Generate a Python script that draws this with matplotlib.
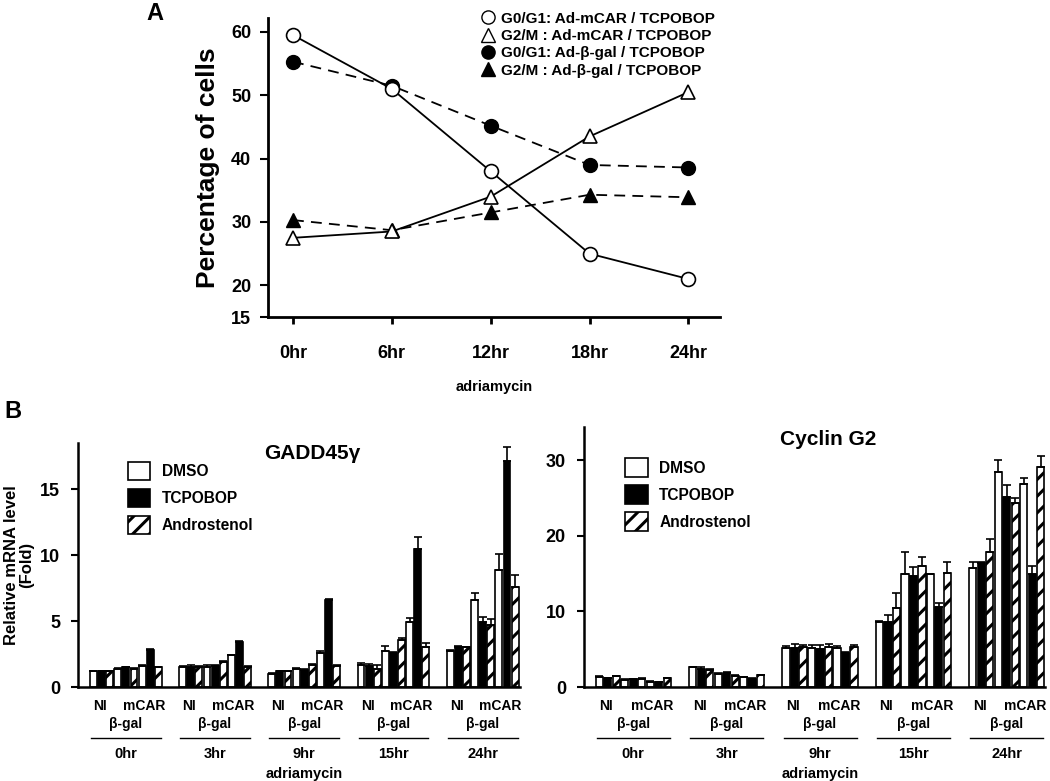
import numpy as np
import matplotlib
matplotlib.use("Agg")
import matplotlib.pyplot as plt
from matplotlib.lines import Line2D

plt.rcParams['font.family'] = ['Liberation Sans', 'DejaVu Sans']
plt.rcParams['font.weight'] = 'bold'
plt.rcParams['hatch.linewidth'] = 2.2

# ---- panel A: cell cycle distribution ----
hours_a   = ["0hr", "6hr", "12hr", "18hr", "24hr"]
g0g1_mcar = [59.5, 51.0, 38.0, 25.0, 21.0]
g2m_mcar  = [27.5, 28.5, 34.0, 43.5, 50.5]
g0g1_bgal = [55.3, 51.5, 45.2, 39.0, 38.6]
g2m_bgal  = [30.3, 28.7, 31.5, 34.3, 33.9]

# ---- panel B: mRNA levels ----
hours_b    = ["0hr", "3hr", "9hr", "15hr", "24hr"]
virus      = ["NI", "β-gal", "mCAR"]
treatments = ["DMSO", "TCPOBOP", "Androstenol"]

# order: for each time -> NI, b-gal, mCAR
gadd_dmso     = [1.2, 1.4, 1.6,  1.5, 1.5, 2.4,  1.0, 1.4, 2.6,  1.7, 2.7, 4.9,  2.7, 6.6, 8.9]
gadd_tcpobop  = [1.2, 1.5, 2.8,  1.5, 1.6, 3.4,  1.2, 1.3, 6.6,  1.6, 2.6, 10.5, 3.0, 4.9, 17.1]
gadd_andro    = [1.2, 1.4, 1.5,  1.5, 1.9, 1.5,  1.2, 1.7, 1.6,  1.4, 3.6, 3.0,  3.0, 4.7, 7.6]
gadd_dmso_err = [0.05, 0.05, 0.1, 0.1, 0.2, 0.05, 0.05, 0.05, 0.1, 0.1, 0.4, 0.3, 0.1, 0.55, 1.2]
gadd_tc_err   = [0.05, 0.05, 0.1, 0.2, 0.05, 0.1, 0.05, 0.05, 0.1, 0.15, 0.05, 0.85, 0.1, 0.4, 1.1]
gadd_an_err   = [0.05, 0.05, 0.05, 0.1, 0.1, 0.1, 0.05, 0.05, 0.05, 0.3, 0.1, 0.3, 0.05, 0.45, 0.9]

cyc_dmso      = [1.35, 0.9, 0.7,  2.6, 1.7, 1.3,  5.1, 5.2, 5.2,  8.6, 15.0, 14.9, 15.8, 28.4, 26.8]
cyc_tcpobop   = [1.2, 1.0, 0.65,  2.4, 1.9, 1.1,  5.2, 5.0, 4.5,  8.6, 14.7, 10.6, 16.4, 25.2, 15.0]
cyc_andro     = [1.4, 1.0, 1.15,  2.25, 1.5, 1.6, 5.3, 5.3, 5.3,  10.4, 16.0, 15.1, 17.8, 24.3, 29.1]
cyc_dmso_err  = [0.05, 0.1, 0.05, 0.1, 0.1, 0.05, 0.3, 0.3, 0.2, 0.1, 2.8, 0.1, 0.7, 1.6, 0.9]
cyc_tc_err    = [0.05, 0.1, 0.05, 0.3, 0.1, 0.05, 0.5, 0.5, 0.1, 0.9, 1.2, 0.5, 0.1, 1.5, 1.0]
cyc_an_err    = [0.05, 0.2, 0.05, 0.1, 0.1, 0.05, 0.3, 0.4, 0.3, 2.1, 1.2, 1.4, 1.8, 0.7, 1.5]

W, H = 1050, 781
fig = plt.figure(figsize=(W / 100, H / 100), dpi=100)

def frac(x0, y0, x1, y1):
    # pixel box (top-left origin) -> figure fraction rect
    return [x0 / W, 1 - y1 / H, (x1 - x0) / W, (y1 - y0) / H]

# ================= panel A =================
axA = fig.add_axes(frac(268, 18, 720, 317))
xa = np.arange(len(hours_a))
lw = 1.3
dash = (0, (6, 4))
axA.plot(xa, g0g1_bgal, color='black', lw=lw, ls=dash, marker='o',
         mfc='black', mec='black', ms=10, zorder=3)
axA.plot(xa, g2m_bgal, color='black', lw=lw, ls=dash, marker='^',
         mfc='black', mec='black', ms=10, zorder=3)
axA.plot(xa, g0g1_mcar, color='black', lw=lw, ls='-', marker='o',
         mfc='white', mec='black', mew=1.2, ms=10, zorder=4)
axA.plot(xa, g2m_mcar, color='black', lw=lw, ls='-', marker='^',
         mfc='white', mec='black', mew=1.2, ms=10, zorder=4)

axA.set_xlim(-0.253, 4.32)
axA.set_ylim(15, 62.2)
axA.set_yticks([15, 20, 30, 40, 50, 60])
axA.set_xticks(xa)
axA.set_xticklabels(hours_a)
for s in ['top', 'right']:
    axA.spines[s].set_visible(False)
for s in ['left', 'bottom']:
    axA.spines[s].set_linewidth(2)
axA.tick_params(axis='y', labelsize=13, width=1.5, length=6, pad=6)
axA.tick_params(axis='x', labelsize=13, width=2, length=5, pad=15)
axA.set_ylabel("Percentage of cells", fontsize=19, fontweight='bold', labelpad=8)
axA.set_xlabel("adriamycin", fontsize=10.5, fontweight='bold', labelpad=13)

legA = [
    Line2D([], [], ls='none', marker='o', mfc='white', mec='black', ms=9.5),
    Line2D([], [], ls='none', marker='^', mfc='white', mec='black', ms=9.5),
    Line2D([], [], ls='none', marker='o', mfc='black', mec='black', ms=9.5),
    Line2D([], [], ls='none', marker='^', mfc='black', mec='black', ms=9.5),
]
legA_labels = ["G0/G1: Ad-mCAR / TCPOBOP", "G2/M : Ad-mCAR / TCPOBOP",
               "G0/G1: Ad-β-gal / TCPOBOP", "G2/M : Ad-β-gal / TCPOBOP"]
fig.legend(legA, legA_labels, loc='upper left', bbox_to_anchor=(474 / W, 1 - 4 / H),
           frameon=False, fontsize=11, handlelength=0.8, handletextpad=0.45,
           labelspacing=0.22, borderpad=0)

fig.text(155 / W, 1 - 14 / H, "A", fontsize=17, fontweight='bold', ha='center', va='center')
fig.text(13 / W, 1 - 411 / H, "B", fontsize=17, fontweight='bold', ha='center', va='center')

# ================= panel B =================
def bar_panel(ax, dmso, tc, an, e_d, e_t, e_a, ymax, yticks, title):
    n_t = len(hours_b)
    x = []
    for t in range(n_t):
        for v in range(3):
            x.append(t * 11 + v * 3)
    x = np.array(x, dtype=float)
    bw = 0.85
    ekw = dict(ecolor='black', elinewidth=1.2, capsize=2.6, capthick=1.2)
    zero = np.zeros(len(x))
    ax.bar(x, dmso, bw, color='white', edgecolor='black', lw=1.2,
           yerr=[zero, e_d], error_kw=ekw, label=treatments[0])
    ax.bar(x + 1, tc, bw, color='black', edgecolor='black', lw=1.2,
           yerr=[zero, e_t], error_kw=ekw, label=treatments[1])
    ax.bar(x + 2, an, bw, color='white', edgecolor='black', lw=1.2, hatch='//',
           yerr=[zero, e_a], error_kw=ekw, label=treatments[2])
    ax.set_ylim(0, ymax)
    ax.set_yticks(yticks)
    ax.set_xticks([])
    for s in ['top', 'right']:
        ax.spines[s].set_visible(False)
    for s in ['left', 'bottom']:
        ax.spines[s].set_linewidth(1.8)
    ax.tick_params(axis='y', labelsize=13, width=1.5, length=5, pad=8)
    ax.set_title(title, fontsize=15, fontweight='bold', x=0.53, y=0.9)
    tr = ax.get_xaxis_transform()
    h_px = ax.get_position().height * H

    def put(s, xv, dy, size):
        ax.annotate(s, xy=(xv, 0), xycoords=tr, xytext=(0, -dy * 0.72),
                    textcoords='offset points', ha='center', va='center',
                    fontsize=size, fontweight='bold', annotation_clip=False)

    for t in range(n_t):
        base = t * 11
        put(virus[0], base + 0.8, 19, 10)
        put(virus[1], base + 4, 37, 10)
        put(virus[2], base + 6.2, 19, 10)
        ax.add_line(Line2D([base - 0.3, base + 8.3], [-51 / h_px] * 2,
                           transform=tr, color='black', lw=1, clip_on=False))
        put(hours_b[t], base + 4, 67, 10.5)
    put("adriamycin", 2 * 11 + 4, 87, 10.5)

axL = fig.add_axes(frac(78, 443, 520, 687))
axL.set_xlim(-1.9, 52.6)
bar_panel(axL, gadd_dmso, gadd_tcpobop, gadd_andro,
          gadd_dmso_err, gadd_tc_err, gadd_an_err,
          18.5, [0, 5, 10, 15], "GADD45γ")
axL.set_ylabel("Relative mRNA level\n(Fold)", fontsize=12, fontweight='bold',
               labelpad=4, linespacing=1.0)
axL.legend(loc='upper left', bbox_to_anchor=(0.095, 0.955), frameon=False,
           fontsize=11.2, handlelength=1.45, handleheight=1.45, handletextpad=0.75,
           labelspacing=0.55, borderpad=0)

axR = fig.add_axes(frac(584, 427, 1045, 687))
axR.set_xlim(-1.8, 52.5)
bar_panel(axR, cyc_dmso, cyc_tcpobop, cyc_andro,
          cyc_dmso_err, cyc_tc_err, cyc_an_err,
          34.4, [0, 10, 20, 30], "Cyclin G2")
axR.legend(loc='upper left', bbox_to_anchor=(0.072, 0.91), frameon=False,
           fontsize=11.2, handlelength=1.45, handleheight=1.45, handletextpad=0.75,
           labelspacing=0.55, borderpad=0)

fig.savefig("out.png", dpi=100)
